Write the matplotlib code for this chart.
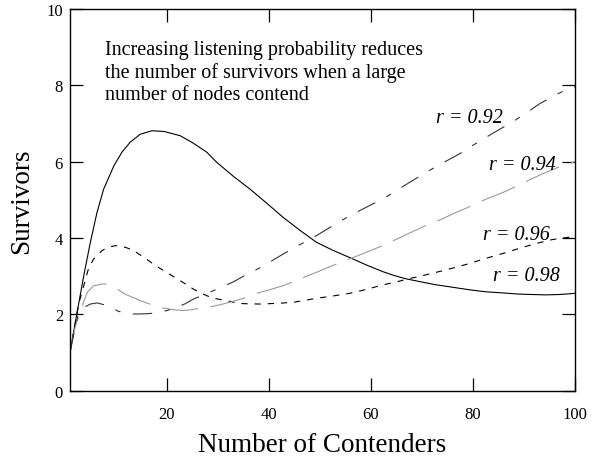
import matplotlib
matplotlib.use("Agg")
import matplotlib.pyplot as plt

plt.rcParams['font.family'] = ['Liberation Serif', 'DejaVu Serif']
plt.rcParams['lines.scale_dashes'] = False

# r = 0.98 (solid)
n_98 = [1, 2.4, 3.7, 5.0, 6.3, 7.6, 9.6, 11.2, 12.8, 14.8, 17.1, 19.5, 22.6, 25, 27.8,
        29.8, 33, 36.3, 39.5, 42.8, 46.1, 49.3, 52.5, 55.8, 59, 62.3, 64.5, 66.9, 69.5,
        72.5, 76, 79.5, 82.6, 86, 89.1, 91.5, 94.3, 97, 100]
s_98 = [1.0, 2.05, 3.01, 3.89, 4.67, 5.28, 5.89, 6.25, 6.51, 6.72, 6.81, 6.79, 6.68, 6.5, 6.25,
        5.98, 5.62, 5.28, 4.92, 4.54, 4.2, 3.89, 3.68, 3.49, 3.3, 3.12, 3.02, 2.93, 2.86,
        2.78, 2.71, 2.64, 2.59, 2.56, 2.53, 2.52, 2.51, 2.52, 2.55]

# r = 0.96 (short dash)
n_96 = [1, 2, 2.7, 3.7, 4.7, 5.65, 7.3, 8.5, 9.9, 11, 12.2, 13.5, 15.4, 17, 18.7, 20.3, 22,
        23.6, 25.2, 26.8, 28.5, 30, 31.7, 33.3, 35, 38.2, 42, 45, 49.3, 52.5, 55.8, 59, 62.3,
        65, 67.6, 69.5, 71.5, 74, 76, 79, 82.6, 86, 89.1, 92.5, 95.6, 98.8, 100]
s_96 = [1, 1.75, 2.27, 2.75, 3.23, 3.45, 3.67, 3.76, 3.80, 3.79, 3.74, 3.67, 3.50, 3.35, 3.20,
        3.07, 2.93, 2.80, 2.66, 2.55, 2.45, 2.40, 2.36, 2.31, 2.28, 2.27, 2.29, 2.32, 2.42, 2.48,
        2.55, 2.65, 2.77, 2.85, 2.94, 2.99, 3.06, 3.14, 3.21, 3.32, 3.47, 3.60, 3.73, 3.86, 3.96,
        4.02, 4.04]

# r = 0.94 (grey long dash)
n_94 = [1, 2, 3.05, 4.4, 5.65, 7.6, 9.6, 11.8, 14.8, 16.8, 18.7, 21.3, 23.2, 24.8, 26.5,
        28.5, 30.4, 32.7, 35, 37.9, 40, 42.8, 45.5, 49.3, 52.5, 55.8, 59, 62.3, 65.2, 68.2,
        71.5, 74, 76, 79, 82.6, 86, 89.1, 91.5, 93.6, 96.5, 99.5, 100]
s_94 = [1, 1.65, 2.10, 2.58, 2.75, 2.80, 2.72, 2.53, 2.36, 2.26, 2.18, 2.12, 2.10, 2.12, 2.16,
        2.20, 2.25, 2.33, 2.42, 2.56, 2.64, 2.75, 2.90, 3.10, 3.28, 3.45, 3.62, 3.80, 3.98, 4.17,
        4.37, 4.50, 4.63, 4.80, 5.02, 5.20, 5.39, 5.55, 5.68, 5.84, 5.98, 6.0]

# r = 0.92 (black long-short dash)
n_92 = [1, 2, 2.7, 4, 5, 6.3, 8.3, 10.5, 12, 13.5, 14.8, 16.5, 18, 20, 22, 23.6, 25.2, 27.2,
        29.1, 31, 33, 34.9, 36.9, 39.8, 42.8, 46, 49.3, 52.5, 55.8, 59, 62.3, 65, 67.6, 70.8,
        74, 77.3, 80, 82.6, 85.4, 88.1, 90.6, 93, 95.8, 98.5, 100]
s_92 = [1, 1.65, 2.05, 2.2, 2.27, 2.30, 2.23, 2.08, 2.03, 2.01, 2.01, 2.02, 2.04, 2.10, 2.18,
        2.28, 2.40, 2.51, 2.62, 2.73, 2.85, 2.99, 3.12, 3.34, 3.58, 3.82, 4.06, 4.32, 4.58, 4.80,
        5.02, 5.24, 5.46, 5.72, 5.96, 6.20, 6.43, 6.64, 6.86, 7.07, 7.29, 7.51, 7.72, 7.90, 7.96]

r_labels = ['r = 0.92', 'r = 0.94', 'r = 0.96', 'r = 0.98']
r_label_x = [72.8, 83.2, 81.9, 83.9]
r_label_y = [7.05, 5.81, 3.97, 2.91]

note = ('Increasing listening probability reduces\n'
        'the number of survivors when a large\n'
        'number of nodes contend')

fig = plt.figure(figsize=(5.92, 4.6), dpi=100)
ax = fig.add_axes([0.1182, 0.1485, 0.853, 0.8298])

ax.plot(n_98, s_98, color='black', lw=0.8)
ax.plot(n_96, s_96, color='black', lw=0.8, linestyle=(0, (4.5, 5)))
ax.plot(n_94, s_94, color='#9a9a9a', lw=0.8, linestyle=(0, (26, 9)))
ax.plot(n_92, s_92, color='#333333', lw=0.8, linestyle=(0, (14, 9, 4, 9)))

for t, x, y in zip(r_labels, r_label_x, r_label_y):
    ax.text(x, y, t, fontsize=14.5, style='italic', ha='left', va='baseline')

ax.text(7.9, 9.19, note, fontsize=14.5, ha='left', va='top', linespacing=1.22)

ax.set_xlim(1, 100)
ax.set_ylim(0, 10)
ax.set_xticks([20, 40, 60, 80, 100])
ax.set_yticks([0, 2, 4, 6, 8, 10])
ax.tick_params(direction='in', length=9.5, width=0.9, top=True, right=True,
               labelsize=12)
ax.tick_params(axis='x', pad=11)
ax.tick_params(axis='y', pad=5)
for sp in ax.spines.values():
    sp.set_linewidth(1.0)

ax.set_xlabel('Number of Contenders', fontsize=19.5, labelpad=7)
ax.set_ylabel('Survivors', fontsize=19.5, labelpad=9)

fig.savefig('out.png', dpi=100)
